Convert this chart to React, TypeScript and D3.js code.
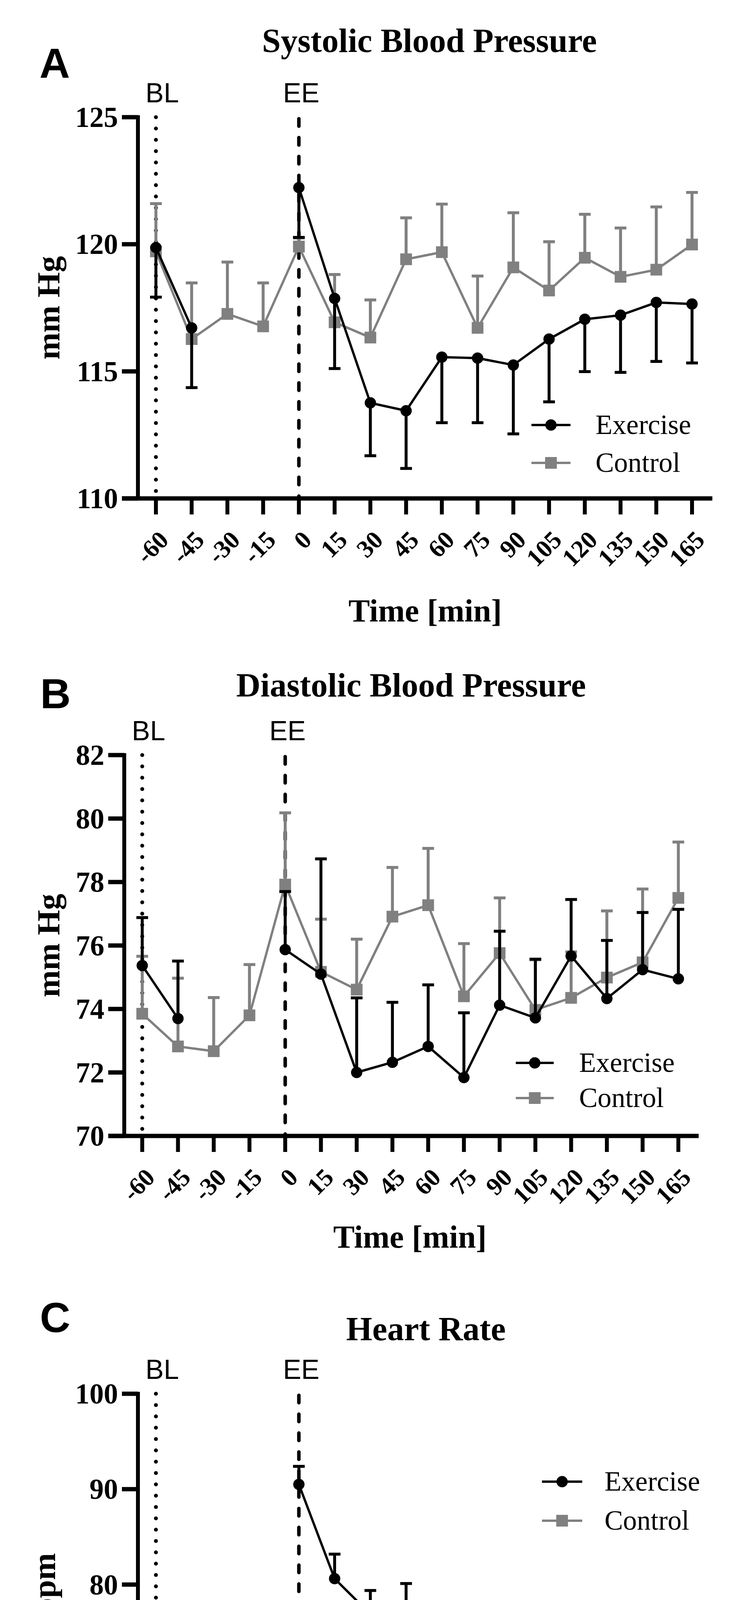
import React from "react";
import * as d3 from "d3";

// ---------- data ----------
const timePoints = [-60, -45, -30, -15, 0, 15, 30, 45, 60, 75, 90, 105, 120, 135, 150, 165];
const tickLabels = timePoints.map(String);
const seriesNames = ["Exercise", "Control"];

// Systolic blood pressure (mean, and end of the error bar)
const sbpExercise = [119.87, 116.71, null, null, 122.23, 117.87, 113.76, 113.45, 115.56, 115.52, 115.25, 116.27, 117.05, 117.21, 117.71, 117.65];
const sbpExerciseErr = [117.92, 114.36, null, null, 120.27, 115.11, 111.68, 111.18, 112.98, 112.98, 112.54, 113.8, 114.99, 114.96, 115.39, 115.33];
const sbpControl = [119.72, 116.27, 117.26, 116.77, 119.91, 116.93, 116.33, 119.41, 119.69, 116.71, 119.09, 118.18, 119.47, 118.72, 119.0, 119.99];
const sbpControlErr = [121.6, 118.48, 119.3, 118.48, 120.25, 118.81, 117.81, 121.04, 121.58, 118.75, 121.24, 120.1, 121.18, 120.64, 121.47, 122.04];
const sbpTicks = [110, 115, 120, 125];

// Diastolic blood pressure
const dbpExercise = [75.37, 73.7, null, null, 75.87, 75.1, 72.0, 72.32, 72.82, 71.84, 74.12, 73.72, 75.67, 74.33, 75.24, 74.95];
const dbpExerciseErr = [76.88, 75.51, null, null, 77.7, 78.73, 74.35, 74.21, 74.76, 73.88, 76.45, 75.57, 77.45, 76.16, 77.04, 77.14];
const dbpControl = [73.85, 72.82, 72.67, 73.8, 77.92, 75.17, 74.61, 76.91, 77.27, 74.4, 75.76, 73.97, 74.35, 74.99, 75.47, 77.5];
const dbpControlErr = [75.66, 74.97, 74.36, 75.4, 80.18, 76.83, 76.2, 78.46, 79.06, 76.06, 77.5, 75.55, 75.8, 77.09, 77.78, 79.26];
const dbpTicks = [70, 72, 74, 76, 78, 80, 82];

// Heart rate
const hrExercise = [71.67, 70.94, null, null, 90.5, 80.62, 76.9, 77.67, 75.19, 74.76, 72.71, 75.06, 73.95, 74.33, 70.7, 73.69];
const hrExerciseErr = [73.8, 73.07, null, null, 92.39, 83.19, 79.38, 80.11, 77.67, 76.98, 75.23, 77.75, 76.34, 77.28, 73.18, 76.09];
const hrControl = [74.34, 72.0, 72.12, 71.98, 71.21, 71.0, 68.64, 67.53, 67.15, 68.47, 67.79, 66.42, 68.64, 68.47, 68.3, 69.5];
const hrControlErr = [71.8, 69.3, 69.67, 69.63, 68.21, 68.56, 66.16, 64.92, 64.96, 65.82, 64.71, 63.42, 65.78, 65.48, 65.69, 66.97];
const hrTicks = [60, 70, 80, 90, 100];

// ---------- layout ----------
const BLACK = "#000000";
const GRAY = "#808080";
const SERIF = "'Liberation Serif', 'Times New Roman', serif";
const SANS = "'Liberation Sans', Arial, sans-serif";

type Panel = {
  letter: string;
  title: string;
  yLabel: string;
  ex: (number | null)[];
  exErr: (number | null)[];
  ct: number[];
  ctErr: number[];
  ticks: number[];
  axisX: number;
  yTop: number;
  yBottom: number;
  titleX: number;
  titleY: number;
  letterX: number;
  letterY: number;
  yLabelX: number;
  xLabelX: number;
  xLabelY: number;
  legY: number;
  legGap: number;
  legX0: number;
  legX1: number;
  legTextX: number;
};

const panels: Panel[] = [
  {
    letter: "A", title: "Systolic Blood Pressure", yLabel: "mm Hg",
    ex: sbpExercise, exErr: sbpExerciseErr, ct: sbpControl, ctErr: sbpControlErr, ticks: sbpTicks,
    axisX: 353, yTop: 300, yBottom: 1276,
    titleX: 1099, titleY: 133, letterX: 101, letterY: 199,
    yLabelX: 152, xLabelX: 1088, xLabelY: 1591,
    legY: 1088, legGap: 97, legX0: 1360, legX1: 1460, legTextX: 1524,
  },
  {
    letter: "B", title: "Diastolic Blood Pressure", yLabel: "mm Hg",
    ex: dbpExercise, exErr: dbpExerciseErr, ct: dbpControl, ctErr: dbpControlErr, ticks: dbpTicks,
    axisX: 318, yTop: 1933, yBottom: 2908,
    titleX: 1052, titleY: 1783, letterX: 103, letterY: 1813,
    yLabelX: 152, xLabelX: 1049, xLabelY: 3194,
    legY: 2721, legGap: 90, legX0: 1320, legX1: 1417, legTextX: 1482,
  },
  {
    letter: "C", title: "Heart Rate", yLabel: "bpm",
    ex: hrExercise, exErr: hrExerciseErr, ct: hrControl, ctErr: hrControlErr, ticks: hrTicks,
    axisX: 353, yTop: 3568, yBottom: 4545,
    titleX: 1090, titleY: 3431, letterX: 102, letterY: 3410,
    yLabelX: 141, xLabelX: 1090, xLabelY: 4844,
    legY: 3793, legGap: 100, legX0: 1387, legX1: 1490, legTextX: 1547,
  },
];

const R = 14.5;
const SQ = 30;
const CAP = 15;

function Square({ x, y, fill }: { x: number; y: number; fill: string }) {
  return <rect x={x - SQ / 2} y={y - SQ / 2} width={SQ} height={SQ} fill={fill} />;
}

function PanelChart({ p }: { p: Panel }) {
  const x0 = p.axisX + 46;
  const x = d3.scaleLinear().domain([-60, 165]).range([x0, x0 + 1372]);
  const y = d3.scaleLinear().domain([p.ticks[0], p.ticks[p.ticks.length - 1]]).range([p.yBottom, p.yTop]);
  const axisRight = x(165) + 52;

  const lineGen = d3
    .line<[number, number | null]>()
    .defined((d) => d[1] !== null)
    .x((d) => x(d[0]))
    .y((d) => y(d[1] as number));

  const exPts = timePoints.map((t, i) => [t, p.ex[i]] as [number, number | null]);
  const ctPts = timePoints.map((t, i) => [t, p.ct[i]] as [number, number | null]);

  const errBars = (vals: (number | null)[], errs: (number | null)[], color: string) =>
    timePoints.map((t, i) => {
      const v = vals[i];
      const e = errs[i];
      if (v === null || e === null) return null;
      const cx = x(t);
      return (
        <g key={`e${t}`} stroke={color} strokeWidth={7.5}>
          <line x1={cx} x2={cx} y1={y(v)} y2={y(e)} />
          <line x1={cx - CAP} x2={cx + CAP} y1={y(e)} y2={y(e)} />
        </g>
      );
    });

  return (
    <g>
      {/* titles */}
      <text x={p.letterX} y={p.letterY} fontFamily={SANS} fontWeight="bold" fontSize={108} fill={BLACK}>
        {p.letter}
      </text>
      <text x={p.titleX} y={p.titleY} textAnchor="middle" fontFamily={SERIF} fontWeight="bold" fontSize={86} fill={BLACK}>
        {p.title}
      </text>

      {/* reference lines */}
      <line x1={x(-60)} x2={x(-60)} y1={p.yTop} y2={p.yBottom} stroke={BLACK} strokeWidth={10}
        strokeDasharray="0 29" strokeLinecap="round" />
      <line x1={x(0)} x2={x(0)} y1={p.yTop + 4} y2={p.yBottom} stroke={BLACK} strokeWidth={9}
        strokeDasharray="19 29.3" strokeLinecap="round" />
      <text x={x(-60) + 16} y={p.yTop - 38} textAnchor="middle" fontFamily={SANS} fontSize={70} fill={BLACK}>BL</text>
      <text x={x(0) + 6} y={p.yTop - 38} textAnchor="middle" fontFamily={SANS} fontSize={70} fill={BLACK}>EE</text>

      {/* axes */}
      <line x1={p.axisX} x2={p.axisX} y1={p.yTop - 5} y2={p.yBottom + 5} stroke={BLACK} strokeWidth={10} />
      <line x1={p.axisX - 41} x2={axisRight} y1={p.yBottom} y2={p.yBottom} stroke={BLACK} strokeWidth={11} />
      {p.ticks.map((t) => (
        <g key={`yt${t}`}>
          <line x1={p.axisX - 41} x2={p.axisX} y1={y(t)} y2={y(t)} stroke={BLACK} strokeWidth={11} />
          <text x={p.axisX - 51} y={y(t) + 25} textAnchor="end" fontFamily={SERIF} fontWeight="bold" fontSize={73} fill={BLACK}>
            {t}
          </text>
        </g>
      ))}
      {timePoints.map((t, i) => (
        <g key={`xt${t}`}>
          <line x1={x(t)} x2={x(t)} y1={p.yBottom} y2={p.yBottom + 41} stroke={BLACK} strokeWidth={10} />
          <text
            transform={`translate(${x(t) + 36},${p.yBottom + 110}) rotate(-45)`}
            textAnchor="end" fontFamily={SERIF} fontWeight="bold" fontSize={64} fill={BLACK}
          >
            {tickLabels[i]}
          </text>
        </g>
      ))}
      <text x={p.xLabelX} y={p.xLabelY} textAnchor="middle" fontFamily={SERIF} fontWeight="bold" fontSize={82} fill={BLACK}>
        Time [min]
      </text>
      <text
        transform={`translate(${p.yLabelX},${(p.yTop + p.yBottom) / 2}) rotate(-90)`}
        textAnchor="middle" fontFamily={SERIF} fontWeight="bold" fontSize={83} fill={BLACK}
      >
        {p.yLabel}
      </text>

      {/* control series (drawn below) */}
      {errBars(p.ct, p.ctErr, GRAY)}
      <path d={lineGen(ctPts) || ""} fill="none" stroke={GRAY} strokeWidth={6} />
      {timePoints.map((t, i) => (
        <Square key={`s${t}`} x={x(t)} y={y(p.ct[i])} fill={GRAY} />
      ))}

      {/* exercise series */}
      {errBars(p.ex, p.exErr, BLACK)}
      <path d={lineGen(exPts) || ""} fill="none" stroke={BLACK} strokeWidth={6} />
      {timePoints.map((t, i) =>
        p.ex[i] === null ? null : <circle key={`c${t}`} cx={x(t)} cy={y(p.ex[i] as number)} r={R} fill={BLACK} />
      )}

      {/* legend */}
      {seriesNames.map((name, k) => {
        const ly = p.legY + k * p.legGap;
        const col = k === 0 ? BLACK : GRAY;
        const mx = (p.legX0 + p.legX1) / 2;
        return (
          <g key={name}>
            <line x1={p.legX0} x2={p.legX1} y1={ly} y2={ly} stroke={col} strokeWidth={6} />
            {k === 0 ? <circle cx={mx} cy={ly} r={R} fill={col} /> : <Square x={mx} y={ly} fill={col} />}
            <text x={p.legTextX} y={ly + 23} fontFamily={SERIF} fontSize={71} fill={BLACK}>
              {name}
            </text>
          </g>
        );
      })}
    </g>
  );
}

export default function App() {
  return (
    <svg
      width={1904}
      height={4939}
      viewBox="0 0 1904 4939"
      style={{ display: "block", marginLeft: -8, marginTop: -8, marginBottom: -8, background: "#ffffff" }}
    >
      <rect x={0} y={0} width={1904} height={4939} fill="#ffffff" />
      {panels.map((p) => (
        <PanelChart key={p.letter} p={p} />
      ))}
    </svg>
  );
}
